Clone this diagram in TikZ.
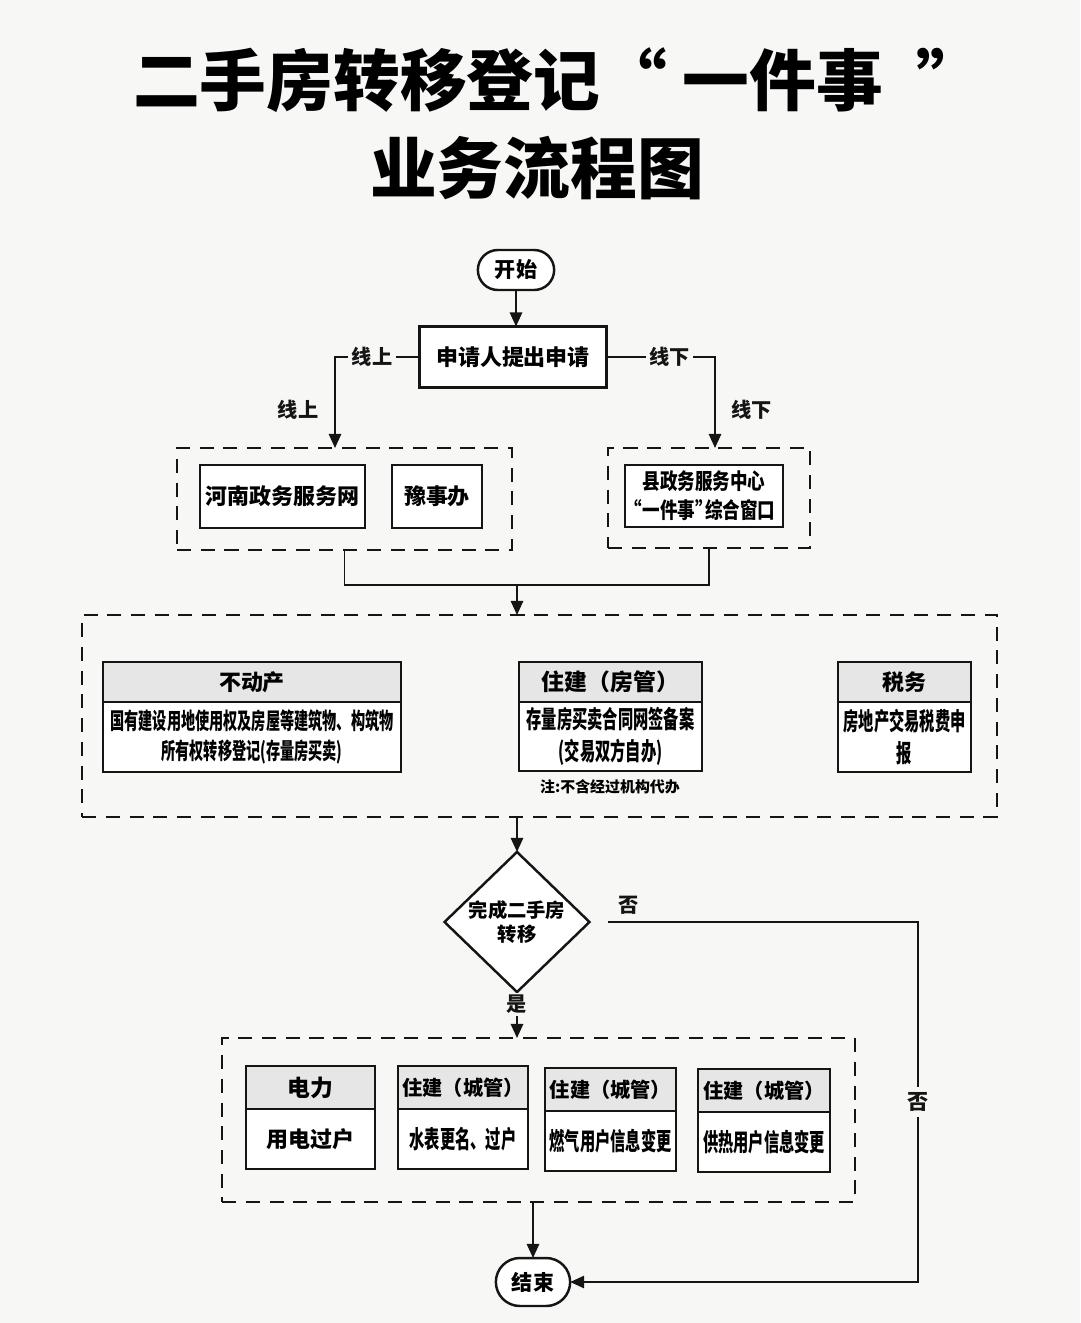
\documentclass[tikz,border=0pt]{standalone}
\usepackage{fontspec}
\setmainfont{Noto Sans CJK SC}
\newfontfamily\narrowfont{Noto Sans CJK SC}[FakeStretch=0.62]
\newfontfamily\midfont{Noto Sans CJK SC}[FakeStretch=0.8]
\usetikzlibrary{arrows.meta,shapes.geometric,shapes.misc}
\definecolor{paper}{HTML}{F7F7F5}
\definecolor{headgray}{HTML}{E6E6E6}
\definecolor{ink}{HTML}{151515}
\newcommand\setfs[2]{\fontsize{#1}{#2}\selectfont}
\newcommand\openq{\makebox[0.45em][r]{“}}
\newcommand\closeq{\makebox[0.45em][l]{”}}

\begin{document}
\begin{tikzpicture}[x=0.02cm,y=-0.02cm,>={Triangle[length=8pt,width=7pt]},
  line width=1.1pt,draw=ink,
  box/.style={draw=ink,line width=1.4pt,fill=white,outer sep=0pt,inner sep=1pt,align=center},
  headbox/.style={box,fill=headgray},
  grp/.style={draw=ink,line width=1.6pt,dash pattern=on 8pt off 5.5pt,outer sep=0pt},
  term/.style={draw=ink,line width=1.4pt,rounded rectangle,fill=white,outer sep=0pt},
  lbl/.style={font=\bfseries\setfs{11.5}{13},text=ink,inner sep=2pt}]

  % Hintergrund
  \fill[paper] (0,0) rectangle (1080,1323);
  \useasboundingbox (0,0) rectangle (1080,1323);

  % Titel
  \node[font=\bfseries\setfs{38}{44}] (title1) at (558,80) {二手房转移登记“ 一件事\hspace{0.5em}”};
  \node[font=\bfseries\setfs{38}{44}] (title2) at (537,168) {业务流程图};

  % Start und Antrag
  \node[term,minimum width=1.76cm,minimum height=0.8cm,font=\bfseries\setfs{12}{14}] (start) at (516,270) {开始};
  \node[box,minimum width=3.74cm,minimum height=1.22cm,font=\bfseries\setfs{12.5}{15}] (apply) at (513,357) {申请人提出申请};
  \draw[->] (start.south) -- (start.south |- apply.north);

  % online / offline
  \node[grp,minimum width=6.7cm,minimum height=2.04cm] (online) at (344.5,499) {};
  \node[box,minimum width=3.3cm,minimum height=1.26cm,font=\bfseries\setfs{12.5}{15}] (hnzw) at (282.5,496.5) {河南政务服务网};
  \node[box,minimum width=1.8cm,minimum height=1.26cm,font=\bfseries\setfs{12.5}{15}] (ysb) at (437,496.5) {豫事办};
  \node[grp,minimum width=4.04cm,minimum height=2cm] (offline) at (709,498) {};
  \node[box,minimum width=3.16cm,minimum height=1.24cm,font=\midfont\bfseries\setfs{12.5}{16.5}] (window) at (704,496) {县政务服务中心\\\openq 一件事\closeq 综合窗口};

  \coordinate (lturn) at (335,357);
  \coordinate (rturn) at (715,357);
  \draw[->] (apply.west) -- node[pos=.56,lbl,fill=paper]{线上} (lturn)
    -- node[pos=.58,lbl,left=7pt]{线上} (lturn |- online.north);
  \draw[->] (apply.east) -- node[pos=.58,lbl,fill=paper]{线下} (rturn)
    -- node[pos=.58,lbl,right=7pt]{线下} (rturn |- offline.north);

  % zusammenfuehren
  \coordinate (merge) at (517,585);
  \draw (online.south) |- (merge) -| (offline.south);

  % Behoerden
  \node[grp,minimum width=18.3cm,minimum height=4.04cm] (depts) at (539.5,716) {};
  \draw[->] (merge) -- (merge |- depts.north);

  \node[headbox,minimum width=5.96cm,minimum height=0.8cm,font=\bfseries\setfs{12.5}{15}] (bdc) at (252,682) {不动产};
  \node[box,minimum width=5.96cm,minimum height=1.4cm,font=\narrowfont\bfseries\setfs{13}{17}] (bdcbody) at (252,737)
    {国有建设用地使用权及房屋等建筑物、构筑物\\所有权转移登记(存量房买卖)};

  \node[headbox,minimum width=3.66cm,minimum height=0.8cm,font=\bfseries\setfs{13}{15}] (fg) at (610.5,682) {住建（房管）};
  \node[box,minimum width=3.66cm,minimum height=1.38cm,font=\narrowfont\bfseries\setfs{14}{18}] (fgbody) at (610.5,736.5)
    {存量房买卖合同网签备案\\(交易双方自办)};
  \node[font=\bfseries\setfs{8.5}{10}] (note) at (610,787) {注:不含经过机构代办};

  \node[headbox,minimum width=2.66cm,minimum height=0.8cm,font=\bfseries\setfs{12.5}{15}] (sw) at (904.5,682) {税务};
  \node[box,minimum width=2.66cm,minimum height=1.4cm,font=\narrowfont\bfseries\setfs{14}{18}] (swbody) at (904.5,737)
    {房地产交易税费申\\报};

  % Entscheidung
  \node[draw=ink,line width=1.4pt,diamond,minimum width=2.9cm,minimum height=2.4cm,inner sep=0pt,outer sep=0pt,
    fill=white,align=center,font=\bfseries\setfs{11}{14}] (chk) at (517,922) {完成二手房\\转移};
  \draw[->] (chk.north |- depts.south) -- (chk.north);

  % Folgedienste
  \node[grp,minimum width=12.66cm,minimum height=3.28cm] (svc) at (538.5,1120) {};
  \draw[->] (chk.south) -- node[pos=.27,lbl,fill=paper,inner sep=1pt]{是} (chk.south |- svc.north);

  \node[headbox,minimum width=2.58cm,minimum height=0.86cm,font=\bfseries\setfs{13}{15}] (dl) at (310.5,1087.5) {电力};
  \node[box,minimum width=2.58cm,minimum height=1.2cm,font=\bfseries\setfs{12.5}{15}] (dlbody) at (310.5,1139) {用电过户};
  \node[headbox,minimum width=2.6cm,minimum height=0.86cm,font=\bfseries\setfs{11.5}{14}] (cga) at (463,1087.5) {住建（城管）};
  \node[box,minimum width=2.6cm,minimum height=1.2cm,font=\narrowfont\bfseries\setfs{14}{16}] (cgabody) at (463,1139) {水表更名、过户};
  \node[headbox,minimum width=2.62cm,minimum height=0.86cm,font=\bfseries\setfs{11.5}{14}] (cgb) at (610.5,1089.5) {住建（城管）};
  \node[box,minimum width=2.62cm,minimum height=1.2cm,font=\narrowfont\bfseries\setfs{14}{16}] (cgbbody) at (610.5,1141) {燃气用户信息变更};
  \node[headbox,minimum width=2.64cm,minimum height=0.86cm,font=\bfseries\setfs{11.5}{14}] (cgc) at (764,1090.5) {住建（城管）};
  \node[box,minimum width=2.64cm,minimum height=1.2cm,font=\narrowfont\bfseries\setfs{14}{16}] (cgcbody) at (764,1142) {供热用户信息变更};

  % Ende
  \node[term,minimum width=1.72cm,minimum height=0.96cm,font=\bfseries\setfs{12}{14}] (finish) at (533,1282) {结束};
  \draw[->] (finish.north |- svc.south) -- (finish.north);

  % nein-Zweig
  \coordinate (nocorner) at (918,922);
  \draw[->,shorten <=0.38cm] (chk.east) -- node[pos=.12,lbl,above=2pt]{否} (nocorner)
    |- node[pos=.25,lbl,fill=paper,inner sep=3pt,font=\bfseries\setfs{12}{14}]{否} (finish.east);

\end{tikzpicture}
\end{document}
